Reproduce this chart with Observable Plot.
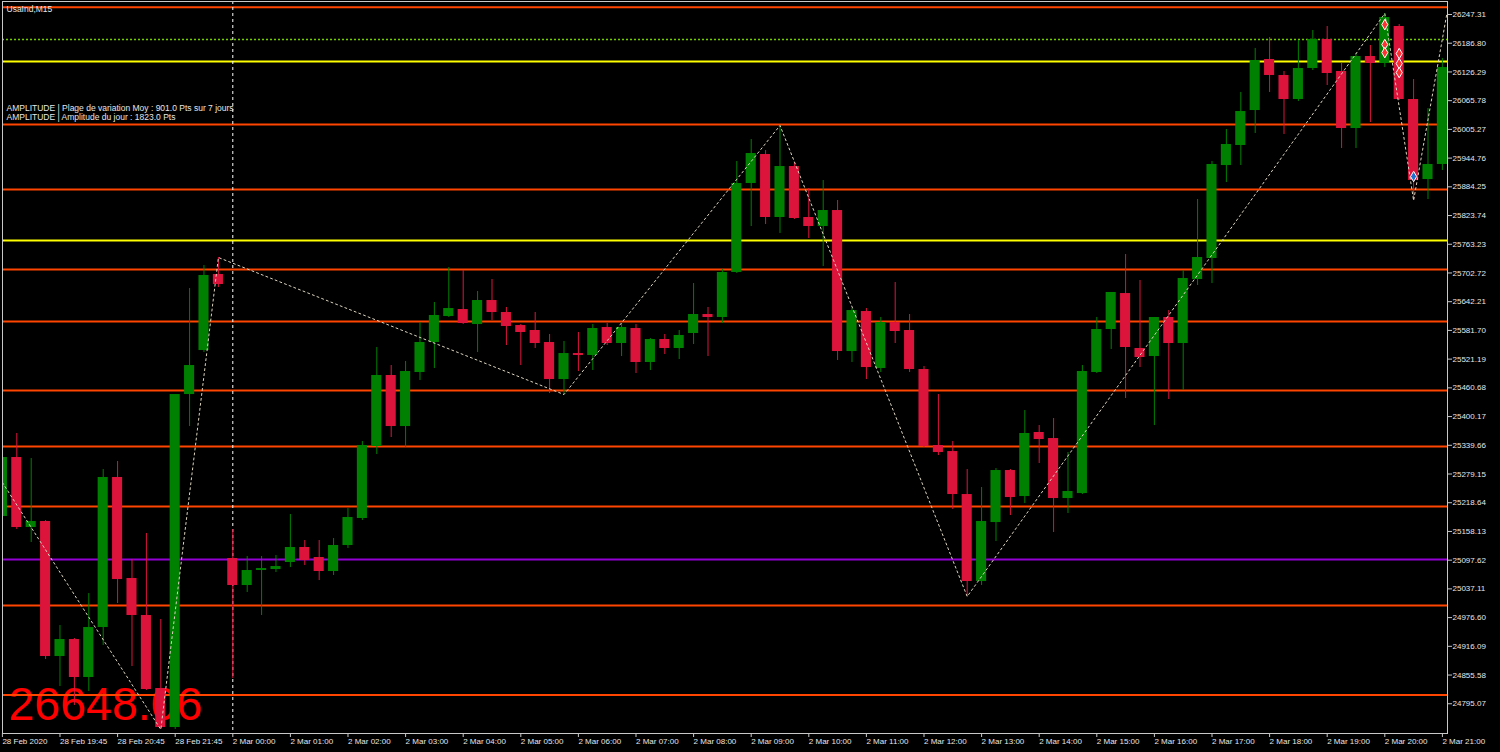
<!DOCTYPE html>
<html>
<head>
<meta charset="utf-8">
<script src="https://cdn.jsdelivr.net/npm/d3@7"></script>
<script src="https://cdn.jsdelivr.net/npm/@observablehq/plot@0.6"></script>
<style>
  html, body { margin: 0; padding: 0; background: #000; overflow: hidden; }
  #chart { width: 1500px; height: 752px; }
</style>
</head>
<body>
<div id="chart"></div>
<script>
// ---- Data (UsaInd, M15) ----
const open = [
  25189.6,25313.9,25166.4,25179.1,24894.6,24930.4,24850.4,24955.7,25271.8,25059.0,
  24981.0,24827.2,24745.0,25446.6,25539.3,25699.5,25101.1,25044.2,25075.8,25077.9,
  25092.7,25124.3,25103.2,25073.7,25128.5,25185.4,25337.1,25486.7,25379.2,25493.0,
  25556.2,25611.0,25625.7,25594.1,25644.7,25619.4,25592.0,25581.5,25556.2,25478.2,
  25533.0,25528.8,25587.8,25554.1,25585.7,25514.1,25562.5,25543.6,25575.2,25615.2,
  25608.9,25703.7,25891.2,25952.3,25819.6,25927.0,25819.6,25800.6,25834.3,25537.2,
  25621.5,25501.4,25598.3,25581.5,25499.3,25339.2,25326.5,25235.9,25052.6,25176.9,
  25286.5,25231.7,25366.6,25353.9,25227.5,25238.0,25493.0,25583.6,25659.4,25543.6,
  25526.7,25608.9,25554.1,25688.9,25733.2,25929.1,25971.3,26045.0,26152.5,26118.8,
  26068.2,26133.5,26194.6,26127.2,26007.1,26158.8,26144.1,26222.0,26068.2,25899.6,
  25931.3
];
const high = [
  25318.1,25364.5,25311.8,25181.2,24959.9,24932.5,25027.3,25288.6,25305.5,25099.0,
  25153.8,24972.6,25446.6,25670.0,25718.4,25735.3,25162.2,25105.3,25105.3,25107.4,
  25193.8,25139.0,25139.0,25143.2,25206.4,25347.6,25545.7,25507.7,25516.2,25598.3,
  25640.5,25714.2,25707.9,25663.7,25688.9,25630.0,25594.1,25619.4,25573.1,25558.3,
  25577.3,25594.1,25596.2,25596.2,25594.1,25564.6,25573.1,25581.5,25680.5,25630.0,
  25710.0,25937.6,25983.9,25960.7,26013.4,25935.5,25880.7,25897.5,25855.4,25627.8,
  25627.8,25608.9,25682.6,25615.2,25505.6,25446.6,25347.6,25288.6,25250.7,25290.7,
  25288.6,25412.9,25381.3,25396.1,25324.4,25507.7,25608.9,25661.6,25741.6,25686.8,
  25608.9,25623.6,25707.9,25857.5,25937.6,26005.0,26083.0,26175.7,26198.8,26127.2,
  26192.5,26213.6,26222.0,26144.1,26165.1,26182.0,26249.4,26226.2,26110.3,26049.2,
  26154.6
];
const low = [
  25181.2,25162.2,25134.8,24888.3,24831.4,24791.4,24820.9,24917.8,25006.3,24873.5,
  24823.0,24740.8,24740.8,25379.2,25535.1,25672.1,24848.3,25029.5,24981.0,25071.6,
  25082.1,25086.3,25054.7,25065.3,25122.2,25181.2,25320.2,25356.0,25335.0,25476.1,
  25501.4,25608.9,25594.1,25535.1,25602.6,25549.9,25507.7,25543.6,25448.7,25446.6,
  25495.1,25497.2,25549.9,25526.7,25490.9,25497.2,25530.9,25520.4,25552.0,25526.7,
  25596.2,25701.6,25800.6,25804.8,25785.9,25815.4,25775.3,25716.3,25518.3,25514.1,
  25478.2,25493.0,25554.1,25493.0,25335.0,25318.1,25204.3,25021.0,25044.2,25136.9,
  25191.7,25217.0,25301.3,25155.9,25195.9,25235.9,25490.9,25541.5,25438.2,25503.5,
  25381.3,25436.1,25455.1,25676.3,25680.5,25893.3,25929.1,25996.6,26083.0,25994.5,
  26064.0,26129.3,26097.7,25965.0,25965.0,26019.7,26135.6,26066.1,25855.4,25857.5,
  25918.6
];
const close = [
  25313.9,25166.4,25179.1,24894.6,24930.4,24850.4,24955.7,25271.8,25056.8,24981.0,
  24825.1,24745.0,25446.6,25507.7,25697.4,25678.4,25044.2,25075.8,25080.0,25084.2,
  25124.3,25096.9,25073.7,25128.5,25187.5,25339.2,25486.7,25379.2,25495.1,25556.2,
  25613.1,25627.8,25596.2,25644.7,25619.4,25589.9,25577.3,25554.1,25478.2,25533.0,
  25528.8,25585.7,25554.1,25587.8,25514.1,25562.5,25543.6,25571.0,25615.2,25608.9,
  25703.7,25891.2,25954.4,25819.6,25927.0,25817.5,25800.6,25834.3,25537.2,25623.6,
  25503.5,25598.3,25579.4,25499.3,25337.1,25324.4,25235.9,25052.6,25179.1,25286.5,
  25229.6,25364.5,25351.8,25227.5,25242.3,25495.1,25583.6,25661.6,25545.7,25524.6,
  25608.9,25554.1,25691.1,25735.3,25931.3,25973.4,26042.9,26150.4,26118.8,26068.2,
  26133.5,26194.6,26123.0,26007.1,26158.8,26144.1,26241.0,26068.2,25897.5,25931.3,
  26135.6
];

// Zigzag turning points: candle index and price
const zigIdx   = [0, 11, 15, 39, 54, 67, 96, 98, 100.3];
const zigPrice = [25261.2, 24740.8, 25735.3, 25446.6, 26013.4, 25021.0, 26249.4, 25855.4, 26247.3];

// Horizontal levels
const orangeLevels = [26262.7, 26015.5, 25878.6, 25710.0, 25600.5, 25455.1, 25337.1, 25210.7, 25002.1, 24813.5];
const yellowLevels = [26148.3, 25771.1];
const purpleLevels = [25099.0];
const bidLevels    = [26194.6];
const sessionStart = [16];

// Signal markers (candle index, price)
const sellIdx   = [96, 96, 96, 97, 97, 97];
const sellPrice = [26226, 26184, 26167, 26165, 26144, 26125];
const buyIdx    = [98];
const buyPrice  = [25906];

// Axis tick labels
const priceTicks = ["26247.31","26186.80","26126.29","26065.78","26005.27","25944.76","25884.25",
  "25823.74","25763.23","25702.72","25642.21","25581.70","25521.19","25460.68","25400.17",
  "25339.66","25279.15","25218.64","25158.13","25097.62","25037.11","24976.60","24916.09",
  "24855.58","24795.07"];
const timeIdx = [0,4,8,12,16,20,24,28,32,36,40,44,48,52,56,60,64,68,72,76,80,84,88,92,96,100];
const timeLabels = ["28 Feb 2020","28 Feb 19:45","28 Feb 20:45","28 Feb 21:45","2 Mar 00:00",
  "2 Mar 01:00","2 Mar 02:00","2 Mar 03:00","2 Mar 04:00","2 Mar 05:00","2 Mar 06:00",
  "2 Mar 07:00","2 Mar 08:00","2 Mar 09:00","2 Mar 10:00","2 Mar 11:00","2 Mar 12:00",
  "2 Mar 13:00","2 Mar 14:00","2 Mar 15:00","2 Mar 16:00","2 Mar 17:00","2 Mar 18:00",
  "2 Mar 19:00","2 Mar 20:00","2 Mar 21:00"];

const titleText = ["UsaInd,M15"];
const infoLine1 = ["AMPLITUDE | Plage de variation Moy : 901.0 Pts sur 7 jours"];
const infoLine2 = ["AMPLITUDE | Amplitude du jour : 1823.0 Pts"];
const bigPrice = ["26648.06"];

// ---- Build ----
const UP = "#008000", DOWN = "#dc143c";
const candles = open.map((o, i) => ({
  i, open: o, high: high[i], low: low[i], close: close[i], up: close[i] >= o
}));
const zig = zigIdx.map((i, k) => ({i, p: zigPrice[k]}));
const sells = sellIdx.map((i, k) => ({i, p: sellPrice[k]}));
const buys = buyIdx.map((i, k) => ({i, p: buyPrice[k]}));
const labelOf = new Map(timeIdx.map((d, k) => [d, timeLabels[k]]));
const font = "'Liberation Sans', Arial, sans-serif";
const txt = (data, opts) => Plot.text(data, {text: d => d, frameAnchor: "top-left", textAnchor: "start",
  lineAnchor: "middle", fill: "#e6e6e6", fontSize: 8.5, ...opts});

const chart = Plot.plot({
  width: 1500,
  height: 752,
  marginLeft: 2,
  marginRight: 53,
  marginTop: 1,
  marginBottom: 19,
  style: {background: "#000", color: "#e6e6e6", fontFamily: font, fontSize: "8px", overflow: "visible"},
  x: {type: "linear", domain: [0.007, 100.354]},
  y: {type: "linear", domain: [24732.4, 26274.7]},
  marks: [
    Plot.text(bigPrice, {text: d => d, frameAnchor: "bottom-left", textAnchor: "start", lineAnchor: "middle",
      dx: 6, dy: -28, fill: "#ff0000", fontSize: 46.5}),
    Plot.ruleY(orangeLevels, {stroke: "#ff4500", strokeWidth: 2}),
    Plot.ruleY(yellowLevels, {stroke: "#ffff00", strokeWidth: 2}),
    Plot.ruleY(purpleLevels, {stroke: "#9400d3", strokeWidth: 2}),
    Plot.ruleY(bidLevels, {stroke: "#6fcf00", strokeWidth: 1.3, strokeDasharray: "2,2"}),
    Plot.ruleX(sessionStart, {stroke: "#ffffff", strokeWidth: 1, strokeDasharray: "3,3"}),
    Plot.ruleX(candles, {x: "i", y1: "low", y2: "high", stroke: d => d.up ? UP : DOWN, strokeWidth: 1, clip: true}),
    Plot.rect(candles, {
      x1: d => d.i - 0.35, x2: d => d.i + 0.35,
      y1: d => Math.min(d.open, d.close), y2: d => Math.max(d.open, d.close),
      fill: d => d.up ? UP : DOWN, clip: true
    }),
    Plot.line(zig, {x: "i", y: "p", stroke: "#ddd5c0", strokeWidth: 1, strokeDasharray: "2,3", clip: true}),
    Plot.dot(sells, {x: "i", y: "p", symbol: "diamond", r: 3.2, fill: "#ff3030", stroke: "#ffffff", strokeWidth: 1}),
    Plot.dot(buys, {x: "i", y: "p", symbol: "diamond", r: 3.2, fill: "#1e6fd0", stroke: "#ffffff", strokeWidth: 1}),
    Plot.frame({stroke: "#c8c8c8"}),
    Plot.axisY({
      anchor: "right", ticks: priceTicks.map(Number), tickFormat: d => d.toFixed(2),
      tickSize: 4, tickPadding: 1, label: null, fontSize: 8, fill: "#e6e6e6", stroke: "#c8c8c8"
    }),
    Plot.axisX({
      anchor: "bottom", ticks: timeIdx, tickFormat: d => labelOf.get(d), textAnchor: "start",
      tickSize: 4, tickPadding: 1, label: null, fontSize: 8, fill: "#e6e6e6", stroke: "#c8c8c8"
    }),
    txt(titleText, {dx: 4, dy: 8}),
    txt(infoLine1, {dx: 4, dy: 106.5}),
    txt(infoLine2, {dx: 4, dy: 116})
  ]
});
document.getElementById("chart").appendChild(chart);
</script>
</body>
</html>
